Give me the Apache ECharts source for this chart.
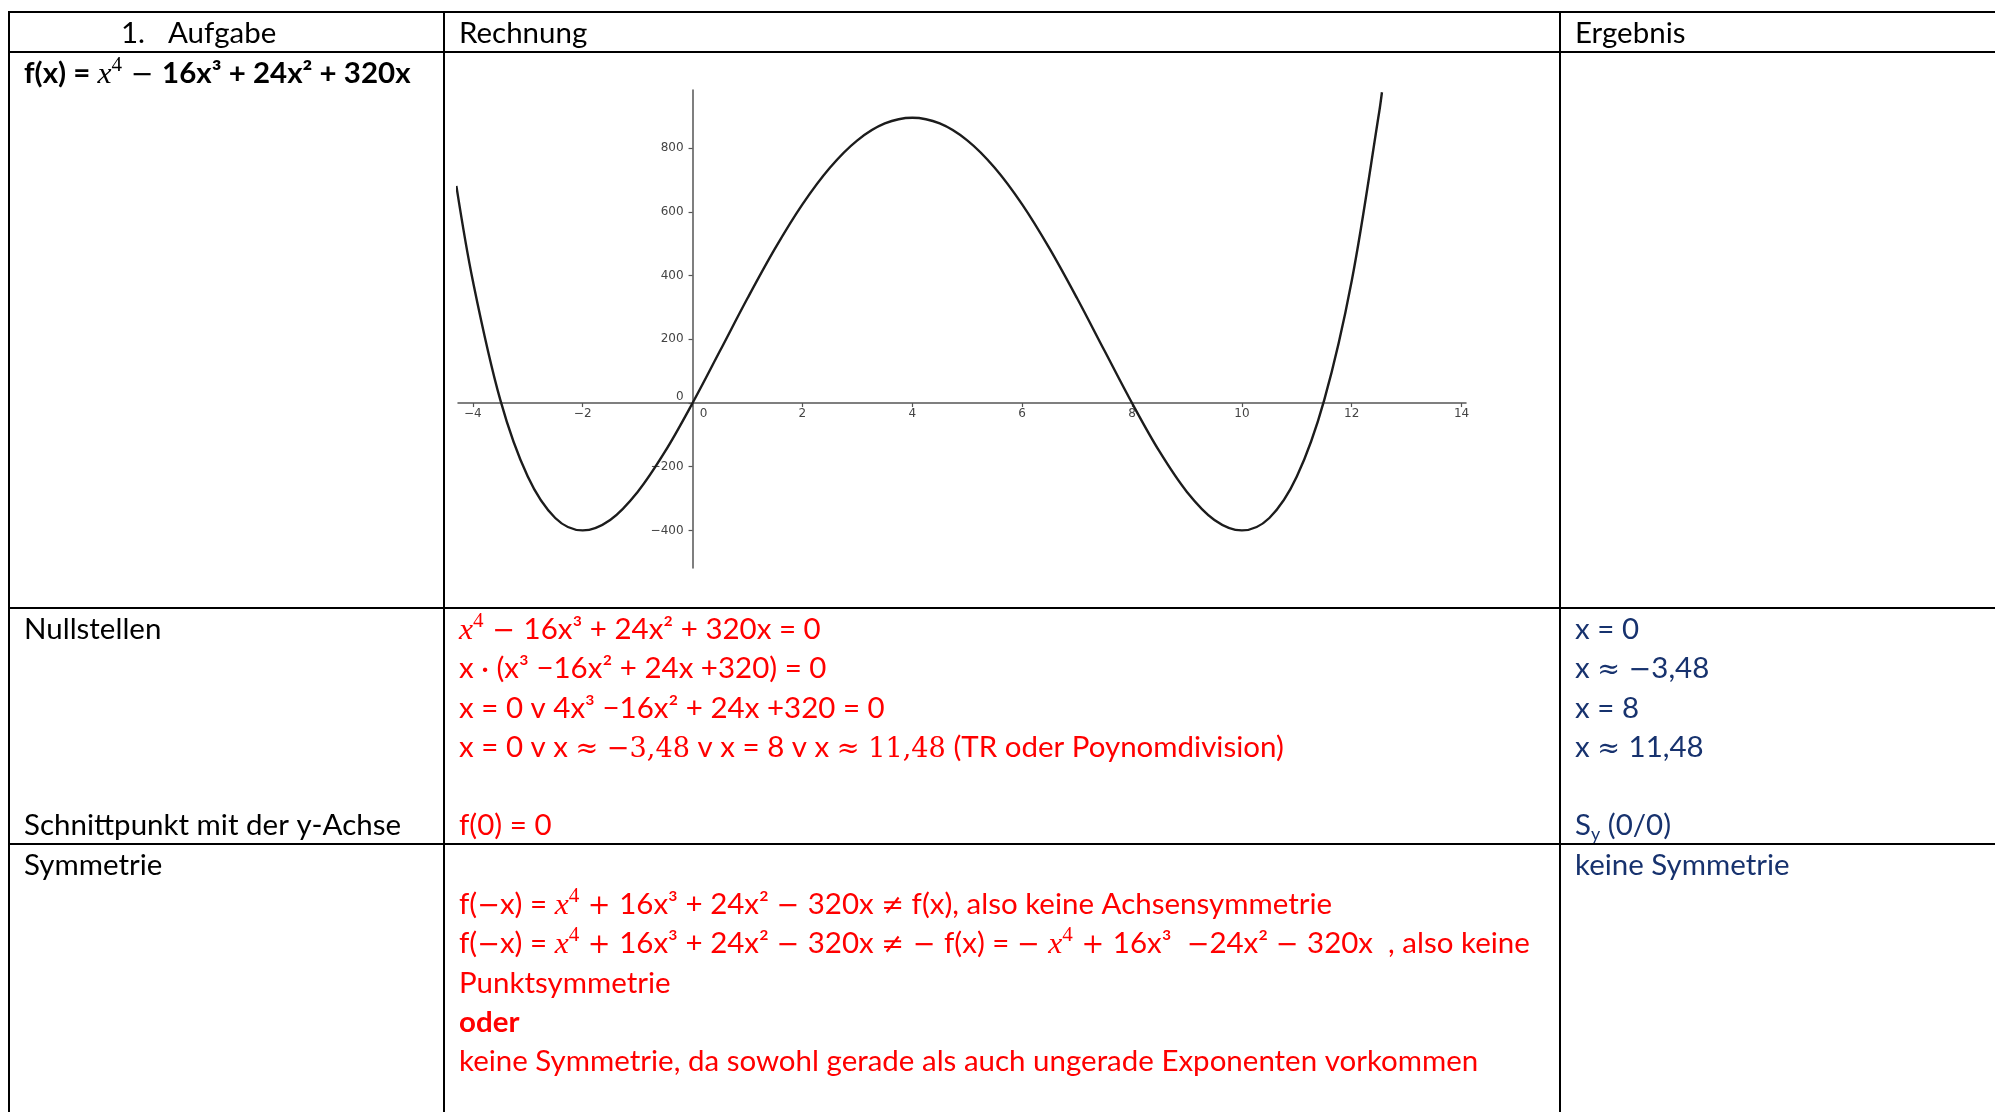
<!DOCTYPE html>
<html><head><meta charset="utf-8">
<script src="https://cdn.jsdelivr.net/npm/echarts@6/dist/echarts.min.js"></script>
<style>html,body{margin:0;padding:0;background:#fff}#c{width:1995px;height:1112px}</style>
</head><body><div id="c"></div>
<script>
// ---- data (graph of f) ----
const xValues = [-4.3,-4,-3.5,-3,-2.5,-2,-1.5,-1,-0.5,0,0.5,1,1.5,2,2.5,3,3.5,4,4.5,5,5.5,6,6.5,7,7.5,8,8.5,9,9.5,10,10.5,11,11.5,12,12.5,12.55];
const yValues = [682,384,10,-231,-361,-400,-367,-279,-152,0,164,329,485,624,739,825,878,896,878,825,739,624,485,329,164,0,-152,-279,-367,-400,-361,-231,10,384,914,976];
const xTicks = [-4,-2,0,2,4,6,8,10,12,14];
const yTicks = [-400,-200,0,200,400,600,800];

// ---- table texts ----
const headerTexts = ['1.', 'Aufgabe', 'Rechnung', 'Ergebnis'];
const rowLabels = ['Nullstellen', 'Schnittpunkt mit der y-Achse', 'Symmetrie'];

const RED = '#ff0000', NAVY = '#17326e', BLACK = '#000000';
const FS = 28;
const ST = {
  n:   {font: `normal normal ${FS}px Lato`, dy: 0},
  b:   {font: `normal bold ${FS}px Lato`, dy: 0},
  c:   {font: `normal normal ${Math.round(FS*1.0)}px "DejaVu Serif"`, dy: 0, sx: 0.92},
  m:   {font: `italic normal ${Math.round(FS*1.08)}px "Liberation Serif"`, dy: 0},
  s:   {font: `normal normal ${Math.round(FS*0.7)}px "Liberation Serif"`, dy: FS*0.42},
  sub: {font: `normal normal ${Math.round(FS*0.62)}px Lato`, dy: -FS*0.18}
};
const cv = document.createElement('canvas').getContext('2d');
function meas(text, st){ cv.font = st.font; cv.textBaseline = 'alphabetic'; return cv.measureText(text).width; }
function midOff(st){ cv.font = st.font; cv.textBaseline = 'middle'; const m = cv.measureText('H'); cv.textBaseline='alphabetic'; return m.actualBoundingBoxDescent; }
const SX = 377 / meas('Schnittpunkt mit der y-Achse', ST.n);

const graphics = [];
function line(x, baseline, segs, color){
  let cx = x;
  segs.forEach(([t, k]) => {
    const st = ST[k];
    const sx = SX * (st.sx || 1);
    graphics.push({type:'text', x: cx, y: baseline - st.dy - midOff(st), scaleX: sx, silent: true, z: 10,
      style: {text: t, font: st.font, fill: color, verticalAlign: 'middle', textVerticalAlign: 'middle', textAlign: 'left'}});
    cx += meas(t, st) * sx;
  });
}
function hline(y, x1, x2){ graphics.push({type:'line', silent:true, shape:{x1, y1:y, x2, y2:y}, style:{stroke:'#000', lineWidth:2}}); }
function vline(x, y1, y2){ graphics.push({type:'line', silent:true, shape:{x1:x, y1, x2:x, y2}, style:{stroke:'#000', lineWidth:2}}); }

// table grid
hline(12, 8, 1995); hline(52, 8, 1995); hline(608, 8, 1995); hline(844, 8, 1995);
vline(9, 11, 1112); vline(444, 11, 1112); vline(1560, 11, 1112);

// header
line(121, 43, [[headerTexts[0],'n']], BLACK);
line(168, 43, [[headerTexts[1],'n']], BLACK);
line(459, 43, [[headerTexts[2],'n']], BLACK);
line(1575, 43, [[headerTexts[3],'n']], BLACK);
// function
line(24, 83, [['f(x) = ','b'],['x','m'],['4','s'],[' − ','c'],['16x³ + 24x² + 320x','b']], BLACK);
// row labels
line(24, 639, [[rowLabels[0],'n']], BLACK);
line(24, 834.5, [[rowLabels[1],'n']], BLACK);
line(24, 875, [[rowLabels[2],'n']], BLACK);
// Rechnung (red)
line(459, 639, [['x','m'],['4','s'],[' − ','c'],['16x³ + 24x² + 320x = 0','n']], RED);
line(459, 678, [['x · (x³ −16x² + 24x +320) = 0','n']], RED);
line(459, 717.5, [['x = 0 v 4x³ −16x² + 24x +320 = 0','n']], RED);
line(459, 757, [['x = 0 v x ','n'],['≈ −3,48','c'],[' v x = 8 v x ','n'],['≈ 11,48','c'],[' (TR oder Poynomdivision)','n']], RED);
line(459, 834.5, [['f(0) = 0','n']], RED);
line(459, 913.5, [['f(','n'],['−','c'],['x) = ','n'],['x','m'],['4','s'],[' + ','c'],['16x³ + 24x² ','n'],['− ','c'],['320x ','n'],['≠','c'],[' f(x), also keine Achsensymmetrie','n']], RED);
line(459, 953, [['f(','n'],['−','c'],['x) = ','n'],['x','m'],['4','s'],[' + ','c'],['16x³ + 24x² ','n'],['− ','c'],['320x ','n'],['≠ − ','c'],['f(x) = ','n'],['− ','c'],['x','m'],['4','s'],[' + ','c'],['16x³  ','n'],['−','c'],['24x² ','n'],['− ','c'],['320x  , also keine','n']], RED);
line(459, 992.5, [['Punktsymmetrie','n']], RED);
line(459, 1032, [['oder','b']], RED);
line(459, 1071, [['keine Symmetrie, da sowohl gerade als auch ungerade Exponenten vorkommen','n']], RED);
// Ergebnis (navy)
line(1575, 639, [['x = 0','n']], NAVY);
line(1575, 678, [['x ','n'],['≈ −','c'],['3,48','n']], NAVY);
line(1575, 717.5, [['x = 8','n']], NAVY);
line(1575, 757, [['x ','n'],['≈ ','c'],['11,48','n']], NAVY);
line(1575, 834.5, [['S','n'],['y','sub'],[' (0/0)','n']], NAVY);
line(1575, 875, [['keine Symmetrie','n']], NAVY);

const GRID = {left: 458, top: 90, width: 1008, height: 478};
const minus = v => (v < 0 ? '−' + Math.abs(v) : String(v));
const chart = echarts.init(document.getElementById('c'), null, {renderer: 'canvas'});
chart.setOption({
  animation: false,
  backgroundColor: '#fff',
  grid: Object.assign({containLabel: false}, GRID),
  xAxis: {
    type: 'value', min: -4.27, max: 14.08, position: 'bottom', offset: 0,
    axisLine: {onZero: false, lineStyle: {color: '#555', width: 1.5}},
    axisTick: {show: true, customValues: xTicks, length: 4, lineStyle: {color: '#555', width: 1.2}},
    axisLabel: {customValues: xTicks, margin: 5, color: '#444', fontSize: 12, fontFamily: 'DejaVu Sans',
      formatter: v => v === 0 ? '{z|0}' : minus(v),
      rich: {z: {padding: [0, 0, 0, 22], color: '#444', fontSize: 12, fontFamily: 'DejaVu Sans'}}},
    splitLine: {show: false}
  },
  yAxis: {
    type: 'value', min: -518, max: 983, position: 'left', offset: 0,
    axisLine: {show: true, onZero: false, lineStyle: {color: '#555', width: 1.5}},
    axisTick: {show: true, customValues: yTicks, length: 4, lineStyle: {color: '#555', width: 1.2}},
    axisLabel: {customValues: yTicks, margin: 9, color: '#444', fontSize: 12, fontFamily: 'DejaVu Sans',
      formatter: v => v === 0 ? '{z|0}' : minus(v),
      rich: {z: {padding: [0, 0, 12, 0], color: '#444', fontSize: 12, fontFamily: 'DejaVu Sans'}}},
    splitLine: {show: false}
  },
  series: [{
    type: 'line', data: xValues.map((x, i) => [x, yValues[i]]),
    showSymbol: false, smooth: 0.35, clip: true,
    lineStyle: {color: '#1c1c1c', width: 2.4}
  }],
  graphic: {elements: graphics}
});
// move both axes onto the origin of the plotted coordinates
const origin = chart.convertToPixel({gridIndex: 0}, [0, 0]);
chart.setOption({
  xAxis: {offset: -(GRID.top + GRID.height - origin[1])},
  yAxis: {offset: -(origin[0] - GRID.left)}
});
</script>
</body></html>
